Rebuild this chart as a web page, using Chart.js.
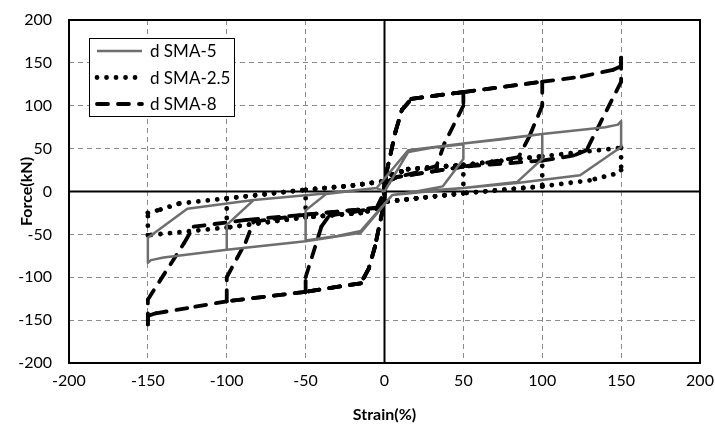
<!DOCTYPE html>
<html>
<head>
<meta charset="utf-8">
<script src="https://cdn.jsdelivr.net/npm/chart.js@4.4.0/dist/chart.umd.min.js"></script>
<style>
  html, body { margin: 0; padding: 0; background: #fff; }
  #wrap { width: 715px; height: 424px; }
</style>
</head>
<body>
<div id="wrap"><canvas id="chart" width="715" height="424"></canvas></div>
<script>
// DATA
const seriesNames = ["d SMA-5", "d SMA-2.5", "d SMA-8"];
const xTicks = [-200, -150, -100, -50, 0, 50, 100, 150, 200];
const yTicks = [-200, -150, -100, -50, 0, 50, 100, 150, 200];

const sma5Strain = [0, 15, 30, 50, 50, 37, 20, 5, -15, -30, -50, -50, -37, -20, -5,
  15, 50, 75, 100, 100, 84, 50, 20, 5, -15, -50, -75, -100, -100, -83, -36, -5,
  15, 50, 100, 140, 148, 150, 150, 124, 84, 50, 5, -15, -50, -100, -140, -148, -150, -150, -125, -83, -36, -5, 0];
const sma5Force = [0, 46, 51, 55, 38, 6, 0, -4, -46, -52, -57, -22, -3, 1, 4,
  48, 56, 61, 67, 38, 11, 4, 0, -4, -48, -58, -63, -68, -39, -10, -2, 4,
  48, 56, 67, 75, 78, 82, 52, 19, 10, 4, -4, -48, -58, -68, -77, -80, -83, -54, -20, -10, -2, 4, 0];

const sma25Strain = [0, 5, 15, 50, 50, 20, 0, -5, -15, -50, -50, -20, 0,
  5, 15, 50, 100, 100, 50, 20, 0, -5, -15, -50, -100, -100, -50, -20, 0,
  5, 15, 50, 100, 150, 150, 145, 130, 100, 50, 20, 0, -5, -15, -50, -100, -150, -150, -142, -130, -100, -50, -20, 0];
const sma25Force = [0, 20, 26, 31, -2, -8, -12, -20, -25, -30, 2, 7, 12,
  20, 26, 31, 41, 6, -2, -8, -12, -20, -25, -30, -42, -8, 2, 7, 12,
  20, 26, 31, 41, 51, 25, 20, 13, 6, -2, -8, -12, -20, -25, -30, -42, -51, -25, -21, -14, -8, 2, 7, 12];

const sma8Strain = [0, 1, 7, 11, 17, 50, 50, 38, 33, 20, 8, 0, -1, -6, -10, -15, -50, -50, -40, -35, -20, -5, 0,
  1, 7, 11, 17, 50, 100, 100, 92, 85, 50, 8, 0, -1, -6, -10, -15, -50, -100, -100, -88, -83, -50, -5, 0,
  1, 7, 11, 17, 50, 100, 125, 145, 150, 150, 150, 128, 120, 100, 50, 8, 0, -1, -6, -10, -15, -50, -100, -125, -145, -150, -150, -150, -127, -121, -87, -50, -5, 0];
const sma8Force = [0, 20, 70, 95, 108, 116, 100, 56, 30, 22, 17, 10, -20, -64, -90, -107, -117, -100, -41, -28, -24, -19, -10,
  20, 70, 95, 108, 116, 128, 100, 65, 40, 29, 17, 10, -20, -64, -90, -107, -117, -128, -100, -59, -35, -27, -19, -10,
  20, 70, 95, 108, 116, 128, 134, 142, 146, 156, 128, 48, 42, 36, 29, 17, 10, -20, -64, -90, -107, -117, -128, -136, -142, -145, -155, -126, -60, -41, -33, -27, -19, 0];

function pairUp(xs, ys) {
  return xs.map((x, i) => ({ x: x, y: ys[i] }));
}

// stroke every segment on its own so the dash pattern restarts at each point
// (repeated passes over the same path then keep their dashes lined up)
const perSegment = {
  borderDashOffset: (ctx) => (ctx.p0DataIndex % 2 ? 0 : 0.001)
};

// legend drawn inside the plot, with a box
const boxLegend = {
  id: 'boxLegend',
  afterDraw(chart) {
    const ctx = chart.ctx;
    const area = chart.chartArea;
    const bx = area.left + 20, by = area.top + 18, bw = 145, bh = 78;
    ctx.save();
    ctx.fillStyle = '#fff';
    ctx.fillRect(bx, by, bw, bh);
    ctx.strokeStyle = '#000';
    ctx.lineWidth = 1;
    ctx.strokeRect(bx + 0.5, by + 0.5, bw, bh);
    chart.data.datasets.forEach((ds, i) => {
      const yy = by + 13 + i * 26.5;
      ctx.beginPath();
      ctx.strokeStyle = ds.borderColor;
      ctx.lineWidth = ds.borderWidth;
      ctx.lineCap = ds.borderCapStyle || 'butt';
      ctx.setLineDash(ds.borderDash || []);
      ctx.moveTo(bx + 8, yy);
      ctx.lineTo(bx + 53, yy);
      ctx.stroke();
      ctx.setLineDash([]);
      ctx.fillStyle = '#000';
      ctx.font = '17px Lato';
      ctx.textBaseline = 'middle';
      ctx.fillText(ds.label, bx + 61, yy + 1);
    });
    ctx.restore();
  }
};

// solid zero lines and a full frame round the plot
const frameLines = {
  id: 'frameLines',
  beforeDatasetsDraw(chart) {
    const ctx = chart.ctx;
    const a = chart.chartArea;
    const x0 = chart.scales.x.getPixelForValue(0);
    const y0 = chart.scales.y.getPixelForValue(0);
    ctx.save();
    ctx.strokeStyle = '#000';
    ctx.lineWidth = 2;
    ctx.beginPath();
    ctx.moveTo(x0, a.top); ctx.lineTo(x0, a.bottom);
    ctx.moveTo(a.left, y0); ctx.lineTo(a.right, y0);
    ctx.stroke();
    ctx.strokeRect(a.left, a.top, a.right - a.left, a.bottom - a.top);
    ctx.restore();
  }
};

const cfg = {
  type: 'scatter',
  data: {
    datasets: [
      {
        label: seriesNames[0],
        data: pairUp(sma5Strain, sma5Force),
        showLine: true,
        borderColor: '#6e6e6e',
        borderWidth: 2.5,
        pointRadius: 0,
        borderJoinStyle: 'round'
      },
      {
        label: seriesNames[1],
        data: pairUp(sma25Strain, sma25Force),
        showLine: true,
        borderColor: '#000',
        borderWidth: 4.8,
        borderDash: [0.01, 9.5],
        borderCapStyle: 'round',
        pointRadius: 0,
        segment: perSegment
      },
      {
        label: seriesNames[2],
        data: pairUp(sma8Strain, sma8Force),
        showLine: true,
        borderColor: '#000',
        borderWidth: 3.8,
        borderDash: [11, 10],
        borderCapStyle: 'round',
        borderJoinStyle: 'round',
        pointRadius: 0,
        segment: perSegment
      }
    ]
  },
  options: {
    responsive: false,
    animation: false,
    layout: { padding: { left: 0, right: 15, top: 20, bottom: 0 } },
    plugins: {
      legend: { display: false },
      tooltip: { enabled: false }
    },
    scales: {
      x: {
        type: 'linear',
        min: -200,
        max: 200,
        afterBuildTicks: (s) => { s.ticks = xTicks.map(v => ({ value: v })); },
        afterFit: (s) => { s.height = 61; s.paddingLeft = 0; s.paddingRight = 0; },
        ticks: { color: '#000', font: { family: 'Lato', size: 16 }, padding: 8, maxRotation: 0 },
        grid: { color: '#8a8a8a', lineWidth: 1, drawTicks: false },
        border: { display: false, dash: [5, 4] },
        title: {
          display: true,
          text: 'Strain(%)',
          color: '#000',
          font: { family: 'Lato', size: 16, weight: 'bold' },
          padding: { top: 0, bottom: 0 }
        }
      },
      y: {
        type: 'linear',
        min: -200,
        max: 200,
        afterBuildTicks: (s) => { s.ticks = yTicks.map(v => ({ value: v })); },
        afterFit: (s) => { s.width = 69; s.paddingTop = 0; s.paddingBottom = 0; },
        ticks: { color: '#000', font: { family: 'Lato', size: 16 }, padding: 17 },
        grid: { color: '#8a8a8a', lineWidth: 1, drawTicks: false },
        border: { display: false, dash: [5, 4] },
        title: {
          display: true,
          text: 'Force(kN)',
          color: '#000',
          font: { family: 'Lato', size: 16, weight: 'bold' },
          padding: { top: 17, bottom: 0 }
        }
      }
    }
  },
  plugins: [frameLines, boxLegend]
};

new Chart(document.getElementById('chart'), cfg);
</script>
</body>
</html>
